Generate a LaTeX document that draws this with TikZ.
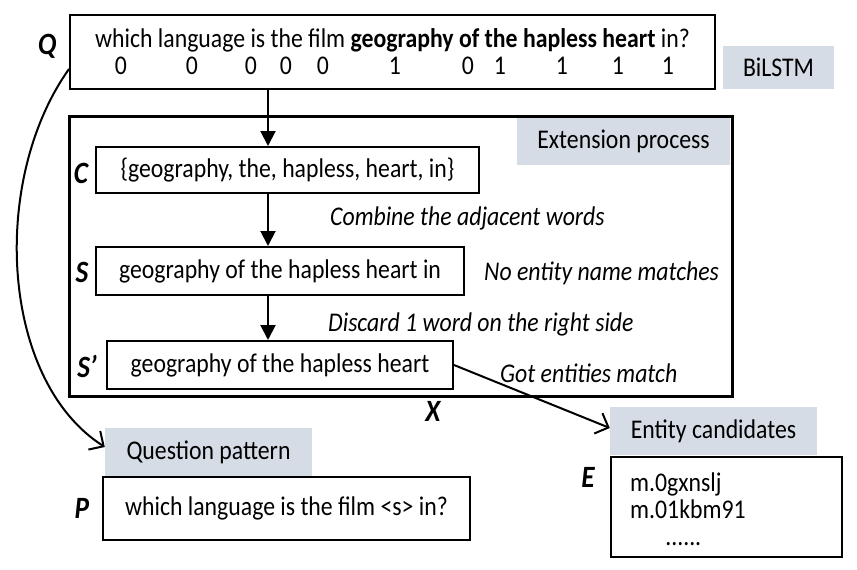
\documentclass[tikz,border=0pt]{standalone}
\usepackage{fontspec}
\setmainfont{Carlito}[FakeStretch=0.88]
\usetikzlibrary{arrows.meta}
\definecolor{tagfill}{HTML}{D6DCE5}

\begin{document}
\begin{tikzpicture}[x=1pt,y=-1pt,
    font=\fontsize{27}{29}\selectfont,
    box/.style={draw,line width=2pt,inner sep=0pt},
    tag/.style={fill=tagfill,inner sep=0pt},
    letter/.style={font=\fontsize{31}{32}\selectfont\bfseries\itshape,inner sep=0pt},
    note/.style={font=\fontsize{27}{29}\selectfont\itshape,anchor=west,inner sep=0pt},
    flow/.style={line width=2pt,-{Triangle[length=15pt,width=15pt]}},
    link/.style={line width=2pt,-{Straight Barb[length=11pt,width=22pt,line width=2pt]}}]
\useasboundingbox (0,0) rectangle (857,570);

% Drawing question box Q
\node[box,minimum width=645pt,minimum height=74pt] (q) at (392.5,52) {};
\node (qline) at (392.5,40) {which language is the film \textbf{geography of the hapless heart} in?};
\foreach \x/\d [count=\i] in {121/0,192/0,251/0,286/0,323/0,395/1,468/0,500/1,562/1,618/1,668/1}
  \node (d\i) at (\x,66) {\d};
\node[letter] (lq) at (47,46) {Q};

% Marking tag BiLSTM
\node[tag,minimum width=111pt,minimum height=43pt] (bilstm) at (778.5,67.5) {BiLSTM};

% Drawing extension process frame
\node[tag,minimum width=213pt,minimum height=47pt] (exttag) at (623.5,141.5) {Extension process};
\node[draw,line width=3pt,minimum width=663pt,minimum height=280pt] (ext) at (400.5,256) {};

% Drawing box C
\node[box,minimum width=383pt,minimum height=46pt] (c) at (287.5,170) {\{geography, the, hapless, heart, in\}};
\node[letter] (lc) at (81,173) {C};
\node[note] (combine) at (330,218) {Combine the adjacent words};

% Drawing box S
\node[box,minimum width=368pt,minimum height=48pt] (s) at (280,271) {geography of the hapless heart in};
\node[letter] (ls) at (82,272) {S};
\node[note] (nomatch) at (484,273) {No entity name matches};
\node[note] (discard) at (328,324) {Discard 1 word on the right side};

% Drawing box S'
\node[box,minimum width=346pt,minimum height=48pt] (sp) at (280,365) {geography of the hapless heart};
\node[letter] (lsp) at (87,366) {S’};
\node[note] (got) at (500,373) {Got entities match};
\node[letter] (lx) at (433,411) {X};

% Drawing entity candidates E
\node[tag,minimum width=207pt,minimum height=48pt] (enttag) at (713.5,431) {Entity candidates};
\node[box,minimum width=231pt,minimum height=100pt] (e) at (726.5,507) {};
\node[anchor=west,align=left,inner sep=0pt] (elist) at (630,509) {m.0gxnslj\\[-2pt]m.01kbm91\\[-2pt]\hspace{1.3em}......};
\node[letter] (le) at (588,477) {E};

% Drawing question pattern P
\node[tag,minimum width=207pt,minimum height=48pt] (pattag) at (208.5,452) {Question pattern};
\node[box,minimum width=367pt,minimum height=63pt] (p) at (286.5,508.5) {which language is the film <s> in?};
\node[letter] (lp) at (82,508) {P};

% Drawing connectors
\coordinate (spine) at (268,0);
\draw[flow] (q.south -| spine) -- (c.north -| spine);
\draw[flow] (c.south -| spine) -- (s.north -| spine);
\draw[flow] (s.south -| spine) -- (sp.north -| spine);
\draw[link] ([yshift=21pt]q.south west) .. controls (-10,180) and (0,380) .. ([yshift=5pt]pattag.west);
\draw[link] (sp.east) -- ([yshift=3pt]enttag.west);
\end{tikzpicture}
\end{document}
